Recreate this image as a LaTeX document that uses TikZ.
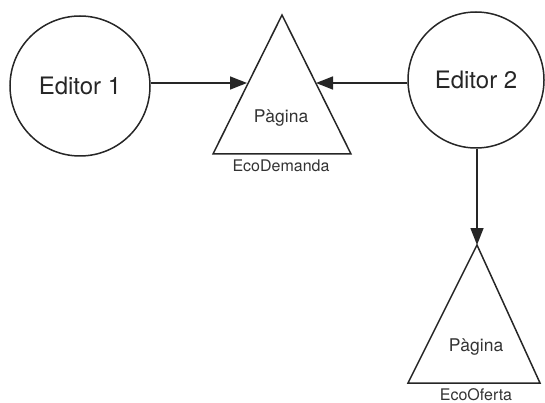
\documentclass[tikz,border=0pt]{standalone}
\usepackage{fontspec}
\setmainfont{TeX Gyre Heros}
\usetikzlibrary{arrows.meta}
\begin{document}
\begin{tikzpicture}[x=1pt,y=-1pt,
  ink/.style={line width=1.5pt,draw=black!85},
  editor/.style={ink,circle,minimum size=#1,inner sep=0pt,font=\fontsize{24}{28}\selectfont,text=black!85},
  tri/.style={ink,line join=miter},
  lbl/.style={inner sep=0pt,text=black!80},
  conn/.style={ink,-{Triangle[length=17pt,width=13pt]}}]
\useasboundingbox (0,0) rectangle (545,403);
\node[editor=140pt] (e1) at (80,86) {Editor 1};
\node[editor=136pt] (e2) at (476,80) {Editor 2};
% triangle 1
\coordinate (t1a) at (282,15);
\coordinate (t1l) at (213,154);
\coordinate (t1r) at (351,154);
\draw[tri] (t1a) -- (t1l) -- (t1r) -- cycle;
\node[lbl,font=\fontsize{17.5}{20}\selectfont] (p1) at (281,118) {Pàgina};
\node[lbl,font=\fontsize{16}{19}\selectfont] (n1) at (281,166) {EcoDemanda};
\coordinate (t1in) at (247,83);
\coordinate (t1out) at (316,83);
% triangle 2
\coordinate (t2a) at (477,245);
\coordinate (t2l) at (408,383);
\coordinate (t2r) at (540,383);
\draw[tri] (t2a) -- (t2l) -- (t2r) -- cycle;
\node[lbl,font=\fontsize{17.5}{20}\selectfont] (p2) at (476,347) {Pàgina};
\node[lbl,font=\fontsize{16}{19}\selectfont] (n2) at (476,395) {EcoOferta};
% connectors
\draw[conn] (e1.east |- t1in) -- (t1in);
\draw[conn] (e2.west |- t1out) -- (t1out);
\draw[conn] (e2.south -| t2a) -- (t2a);
\end{tikzpicture}
\end{document}
